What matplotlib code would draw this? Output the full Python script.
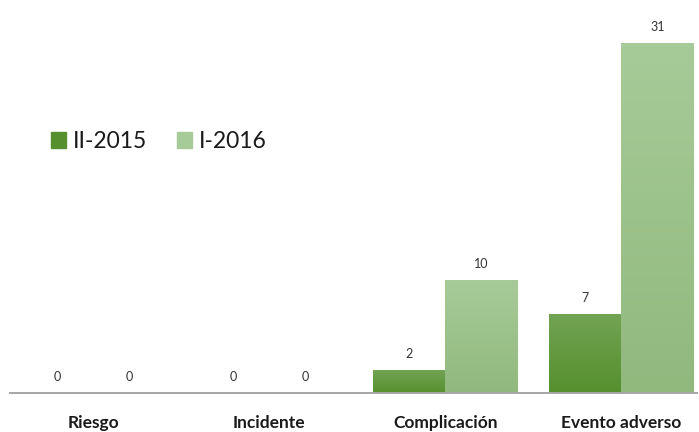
import numpy as np
import matplotlib
matplotlib.use("Agg")
import matplotlib.pyplot as plt
from matplotlib.patches import Rectangle

plt.rcParams["font.family"] = ["Lato", "DejaVu Sans"]

# data
categorias = ["Riesgo", "Incidente", "Complicación", "Evento adverso"]
series = ["II-2015", "I-2016"]
valores_2015 = [0, 0, 2, 7]
valores_2016 = [0, 0, 10, 31]

# colour gradients (top, bottom)
grad_2015 = ("#72a353", "#56902e")
grad_2016 = ("#a7cb98", "#91b97e")

W, H = 699, 432
fig = plt.figure(figsize=(W / 100, H / 100), dpi=100)
ax = fig.add_axes([10 / W, 39 / H, 687 / W, 393 / H])

x = np.arange(len(categorias))
ancho = 0.41


def gradient_bars(xs, vals, colors, label):
    bars = ax.bar(xs, vals, width=ancho, color=colors[0], label=label,
                  linewidth=0, zorder=2)
    c0 = np.array(matplotlib.colors.to_rgb(colors[0]))
    c1 = np.array(matplotlib.colors.to_rgb(colors[1]))
    t = np.linspace(0, 1, 64)[:, None]
    img = (c1 * (1 - t) + c0 * t)[:, None, :]
    for b in bars:
        if b.get_height() <= 0:
            continue
        x0, w, h = b.get_x(), b.get_width(), b.get_height()
        im = ax.imshow(img, extent=[x0, x0 + w, 0, h], origin="lower",
                       aspect="auto", zorder=3)
        im.set_clip_path(b)
    return bars


b1 = gradient_bars(x - ancho / 2, valores_2015, grad_2015, series[0])
b2 = gradient_bars(x + ancho / 2, valores_2016, grad_2016, series[1])

for bars, vals in ((b1, valores_2015), (b2, valores_2016)):
    for b, v in zip(bars, vals):
        ax.text(b.get_x() + b.get_width() / 2, v + 0.9, str(v),
                ha="center", va="bottom", fontsize=9, color="#333333",
                zorder=4)

ax.set_xlim(-0.474, 3.43)
ax.set_ylim(0, 34.8)
ax.set_yticks([])
ax.set_xticks(x)
ax.set_xticklabels(categorias, fontsize=12.5, fontweight="bold",
                   color="#1a1a1a")
ax.tick_params(axis="x", length=0, pad=16)
for s in ("top", "right", "left"):
    ax.spines[s].set_visible(False)
ax.spines["bottom"].set_color("#a6a6a6")
ax.spines["bottom"].set_linewidth(1.4)
ax.spines["bottom"].set_zorder(5)

handles = [Rectangle((0, 0), 1, 1, color=grad_2015[1]),
           Rectangle((0, 0), 1, 1, color=grad_2016[0])]
ax.legend(handles, series, loc="upper left", bbox_to_anchor=(0.047, 0.69),
          ncol=2, frameon=False, fontsize=16.5, handlelength=0.65,
          handleheight=0.65, handletextpad=0.3, columnspacing=1.3,
          borderaxespad=0, labelcolor="#1a1a1a")

fig.savefig("out.png", dpi=100, facecolor="white")
